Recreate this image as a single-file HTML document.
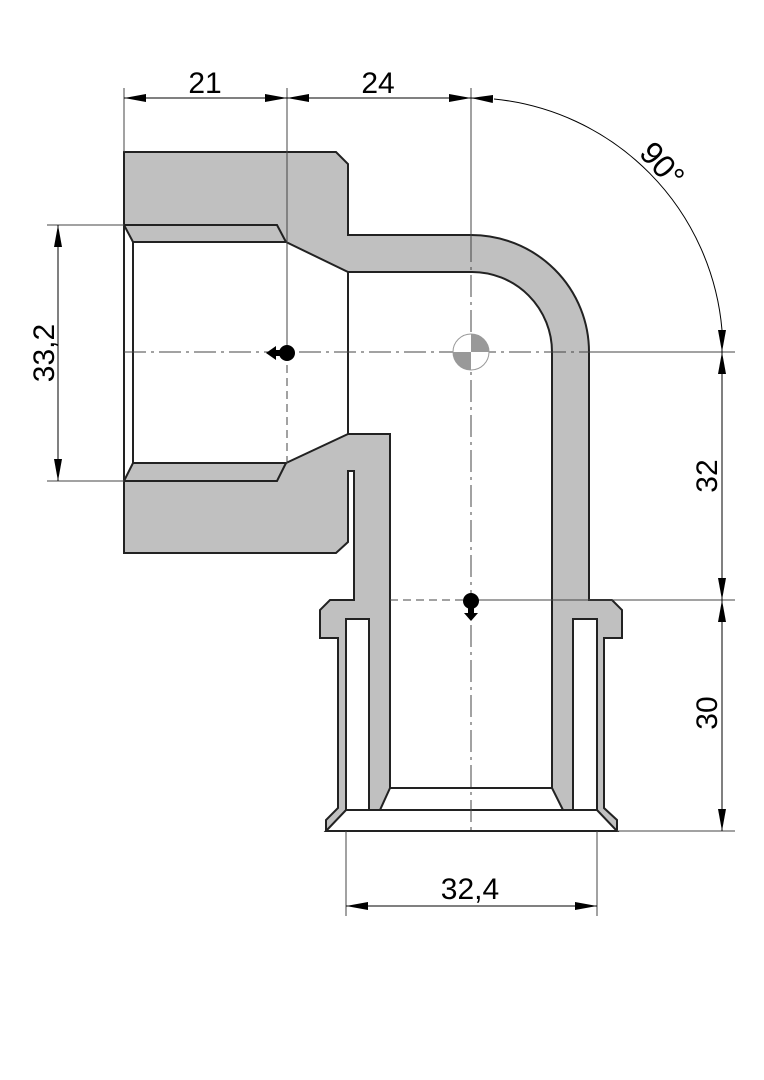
<!DOCTYPE html>
<html><head><meta charset="utf-8"><style>html,body{margin:0;padding:0;background:#fff}svg{display:block}</style></head>
<body>
<svg width="764" height="1080" viewBox="0 0 764 1080" xmlns="http://www.w3.org/2000/svg" font-family="Liberation Sans, DejaVu Sans, sans-serif">
<defs>
<marker id="a" viewBox="0 0 22 8" refX="22" refY="4" markerWidth="22" markerHeight="8" markerUnits="userSpaceOnUse" orient="auto"><path d="M0,0 L22,4 L0,8 Z" fill="#000"/></marker>
</defs>
<path d="M124,152 L336,152 L348,164 L348,235 L471,235 A118,117 0 0 1 589,352 L589,600 L612,600 L622,610 L622,638 L604,638 L604,808 L617,820 L617,831 L326,831 L326,820 L338,808 L338,638 L320,638 L320,610 L330,600 L354,600 L354,471 L348,471 L348,542 L336,553 L124,553 Z" fill="#c0c0c0" stroke="#222" stroke-width="2"/>
<path d="M124,225 L133,242 L286,242 L348,272 L348,434 L286,463 L133,463 L124,481 Z" fill="#fff" stroke="#222" stroke-width="2"/>
<path d="M124,225 L277,225 L286,242 M124,481 L277,481 L286,463 M124,225 L124,481 M133,242 L133,463" fill="none" stroke="#222" stroke-width="2"/>
<path d="M348,272 L472,272 A80,80 0 0 1 552,352 L552,788 L563,810 L380,810 L390,788 L390,434 L348,434" fill="#fff" stroke="#222" stroke-width="2"/>
<path d="M348,272 L348,434 L390,434 M390,788 L552,788" fill="none" stroke="#222" stroke-width="2"/>
<rect x="346" y="619" width="23" height="191" fill="#fff" stroke="#222" stroke-width="2"/>
<rect x="573" y="619" width="24" height="191" fill="#fff" stroke="#222" stroke-width="2"/>
<path d="M326,831 L346,810 L597,810 L617,831 Z" fill="#fff" stroke="#222" stroke-width="2"/>
<g stroke="#444" stroke-width="1" fill="none">
<line x1="124" y1="352" x2="589" y2="352" stroke-dasharray="22,5,3,5"/>
<line x1="589" y1="352" x2="735" y2="352"/>
<line x1="471" y1="88" x2="471" y2="240"/>
<line x1="471" y1="240" x2="471" y2="831" stroke-dasharray="22,5,3,5"/>
<line x1="287" y1="88" x2="287" y2="352"/>
<line x1="287" y1="352" x2="287" y2="463" stroke-dasharray="8,5"/>
<line x1="390" y1="600" x2="471" y2="600" stroke-dasharray="8,5"/>
<line x1="471" y1="600" x2="735" y2="600"/>
<line x1="617" y1="831" x2="735" y2="831"/>
<line x1="124" y1="88" x2="124" y2="152"/>
<line x1="47" y1="225" x2="124" y2="225"/>
<line x1="47" y1="481" x2="124" y2="481"/>
<line x1="346" y1="831" x2="346" y2="916"/>
<line x1="597" y1="831" x2="597" y2="916"/>
</g>
<g stroke="#000" stroke-width="1" fill="none">
<line x1="205" y1="98" x2="124" y2="98" marker-end="url(#a)"/>
<line x1="205" y1="98" x2="287" y2="98" marker-end="url(#a)"/>
<line x1="380" y1="98" x2="287" y2="98" marker-end="url(#a)"/>
<line x1="380" y1="98" x2="471" y2="98" marker-end="url(#a)"/>
<path d="M494,99 A254,254 0 0 1 722,330"/>
<path d="M493,99 L471,98" marker-end="url(#a)"/>
<path d="M722,332 L722,352" marker-end="url(#a)"/>
<line x1="722" y1="476" x2="722" y2="352" marker-end="url(#a)"/>
<line x1="722" y1="476" x2="722" y2="600" marker-end="url(#a)"/>
<line x1="722" y1="715" x2="722" y2="600" marker-end="url(#a)"/>
<line x1="722" y1="715" x2="722" y2="831" marker-end="url(#a)"/>
<line x1="58" y1="353" x2="58" y2="225" marker-end="url(#a)"/>
<line x1="58" y1="353" x2="58" y2="481" marker-end="url(#a)"/>
<line x1="470" y1="906" x2="346" y2="906" marker-end="url(#a)"/>
<line x1="470" y1="906" x2="597" y2="906" marker-end="url(#a)"/>
</g>
<circle cx="471" cy="352" r="18" fill="#fff" stroke="#999" stroke-width="1"/>
<path d="M471,352 L471,334 A18,18 0 0 1 489,352 Z" fill="#999"/>
<path d="M471,352 L471,370 A18,18 0 0 1 453,352 Z" fill="#999"/>
<circle cx="287" cy="353" r="8" fill="#000"/>
<path d="M280,350 L276,350 L276,346 L266,353 L276,360 L276,356 L280,356 Z" fill="#000"/>
<circle cx="471" cy="601" r="8" fill="#000"/>
<path d="M468,607 L468,613 L464,613 L471,621 L478,613 L474,613 L474,607 Z" fill="#000"/>
<g font-size="30" fill="#000" text-anchor="middle">
<text x="205" y="93">21</text>
<text x="378" y="93">24</text>
<text x="470" y="899">32,4</text>
<text transform="translate(717,476) rotate(-90)">32</text>
<text transform="translate(717,713) rotate(-90)">30</text>
<text transform="translate(54,353) rotate(-90)">33,2</text>
<text transform="translate(654,172) rotate(48)" font-size="32">90°</text>
</g>
</svg>
</body></html>
